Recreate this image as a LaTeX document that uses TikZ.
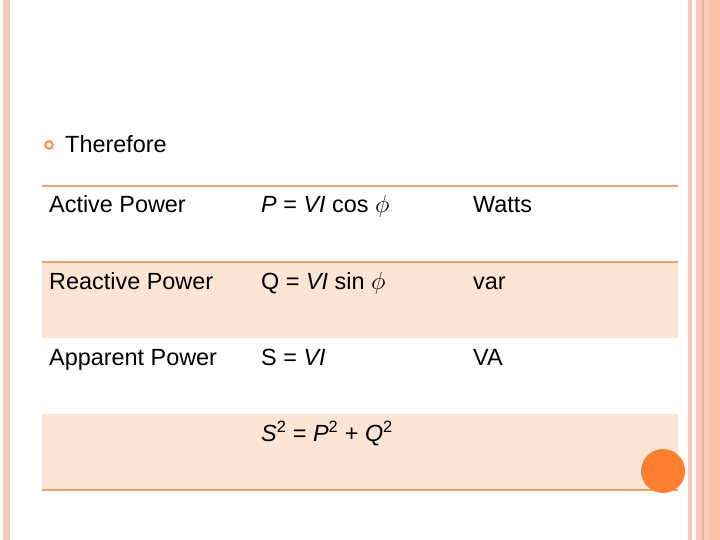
\documentclass[tikz,border=0pt]{standalone}
\usepackage{fontspec}
\setmainfont{Liberation Sans}
\definecolor{peach}{HTML}{FDE5D6}
\definecolor{rule}{HTML}{E8A36E}
\definecolor{stripe}{HTML}{F9CBB8}
\definecolor{stripeb}{HTML}{FCBFAA}
\definecolor{dot}{HTML}{FD8032}
\begin{document}
\begin{tikzpicture}[x=1bp,y=-1bp,
  txt/.style={anchor=base west,inner sep=0pt,font=\fontsize{23.5}{26}\selectfont},
  hline/.style={draw=rule,line width=2bp}]
\useasboundingbox (0,0) rectangle (720,540);
\fill[white] (0,0) rectangle (720,540);
% borders
\fill[stripe] (3,0) rectangle (10,540);
\fill[stripe] (688,0) rectangle (692,540);
\fill[stripe] (696,0) rectangle (702,540);
\fill[rule!80] (702,0) rectangle (703.5,540);
\fill[stripe] (703.5,0) rectangle (709,540);
\fill[stripeb] (709,0) rectangle (720,540);
% rows
\fill[peach] (42,262) rectangle (678,338);
\fill[peach] (42,414) rectangle (678,490);
\draw[hline] (42,186) -- (678,186);
\draw[hline] (42,262) -- (678,262);
\draw[hline] (42,490) -- (678,490);
% bullet
\draw[dot!90,line width=2bp] (49,145) circle (3.8);
\node[txt] (t0) at (65,153) {Therefore};
\node[txt] (a1) at (49,213) {Active Power};
\node[txt] (a2) at (261,213) {\textit{P} = \textit{VI} cos \(\phi\)};
\node[txt] (a3) at (473,213) {Watts};
\node[txt] (b1) at (49,289) {Reactive Power};
\node[txt] (b2) at (261,289) {Q = \textit{VI} sin \(\phi\)};
\node[txt] (b3) at (473,289) {var};
\node[txt] (c1) at (49,365) {Apparent Power};
\node[txt] (c2) at (261,365) {S = \textit{VI}};
\node[txt] (c3) at (473,365) {VA};
\node[txt] (d2) at (261,441) {\textit{S}\textsuperscript{2} = \textit{P}\textsuperscript{2} + \textit{Q}\textsuperscript{2}};
\fill[dot] (663,471) circle (22);
\end{tikzpicture}
\end{document}
